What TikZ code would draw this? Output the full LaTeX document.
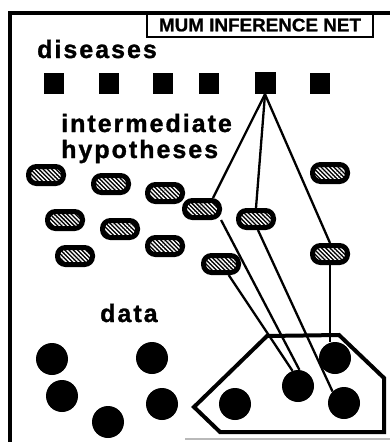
\documentclass[tikz,border=0pt]{standalone}
\usepackage{fontspec}
\usepackage{graphicx}
\newfontfamily\labfont{Liberation Sans Bold}[LetterSpace=8, FakeBold=1.2]
\newfontfamily\titlefont{Liberation Sans Bold}[FakeBold=1]
\usetikzlibrary{patterns.meta}
\begin{document}
\begin{tikzpicture}[x=1pt,y=-1pt,
  dis/.style={rectangle, fill=black, inner sep=0pt, minimum width=20pt, minimum height=21pt},
  hyp/.style={rectangle, rounded corners=8pt, draw=black, line width=5pt,
    minimum width=35pt, minimum height=17pt, inner sep=0pt,
    preaction={fill=black},
    preaction={pattern={Lines[angle=-45,distance=3pt,line width=1.4pt]}, pattern color=white}},
  dat/.style={circle, fill=black, minimum size=32pt, inner sep=0pt},
  lab/.style={font=\labfont\fontsize{25}{26}\selectfont, inner sep=0pt, anchor=base west},
  link/.style={line width=2.3pt}]
\useasboundingbox (0,0) rectangle (390,442);
% frame
\draw[line width=3.5pt] (10,442) -- (10,13) -- (390,13);
\draw[gray!55, line width=1.5pt] (185,439) -- (390,439);
% title
\node (title) [draw, line width=2pt, inner sep=0pt, minimum width=226pt, minimum height=24pt,
  font=\titlefont]
  at (260,25) {\resizebox{202pt}{12.8pt}{MUM INFERENCE NET}};
% labels
\node (ldis) [lab] at (37,58) {diseases};
\node (lhyp1) [lab] at (61,132) {intermediate};
\node (lhyp2) [lab] at (61,158) {hypotheses};
\node (ldat) [lab] at (100,322) {data};
% diseases
\node (s1) [dis] at (54,83) {};
\node (s2) [dis] at (109,83) {};
\node (s3) [dis] at (163,83) {};
\node (s4) [dis] at (209,83) {};
\node (s5) [dis, minimum width=21pt, minimum height=22pt] at (265,83) {};
\node (s6) [dis] at (320,83) {};
% hypotheses
\node (h1) [hyp] at (46,175) {};
\node (h2) [hyp] at (111,184) {};
\node (h3) [hyp] at (165,193) {};
\node (h4) [hyp] at (202,209) {};
\node (h5) [hyp] at (256,219) {};
\node (h6) [hyp] at (330,173) {};
\node (h7) [hyp] at (65,220) {};
\node (h8) [hyp] at (120,229) {};
\node (h9) [hyp] at (165,246) {};
\node (h10) [hyp] at (221,264) {};
\node (h11) [hyp] at (330,254) {};
\node (h12) [hyp] at (75,256) {};
% data region
\draw[line width=4pt] (194,407) -- (267,336) -- (339,335) -- (384,378) -- (384,432) -- (220,432) -- cycle;
% data
\node (c1) [dat] at (52,359) {};
\node (c2) [dat] at (152,358) {};
\node (c3) [dat] at (62,396) {};
\node (c4) [dat] at (108,422) {};
\node (c5) [dat] at (162,404) {};
\node (c6) [dat] at (235,404) {};
\node (c7) [dat] at (298,386) {};
\node (c8) [dat] at (335,358) {};
\node (c9) [dat] at (344,403) {};
% links
\draw[link] (s5.south) -- (h4.45);
\draw[link] (s5.south) -- (h5.north);
\draw[link] (s5.south) -- (h11.north);
\draw[link] (h4.-30) -- (c7.85);
\draw[link] (h10.-55) -- (c7.110);
\draw[link] (h5.-80) -- (c9.135);
\draw[link] (h11.south) -- (h11.south |- c8.north);
\end{tikzpicture}
\end{document}
